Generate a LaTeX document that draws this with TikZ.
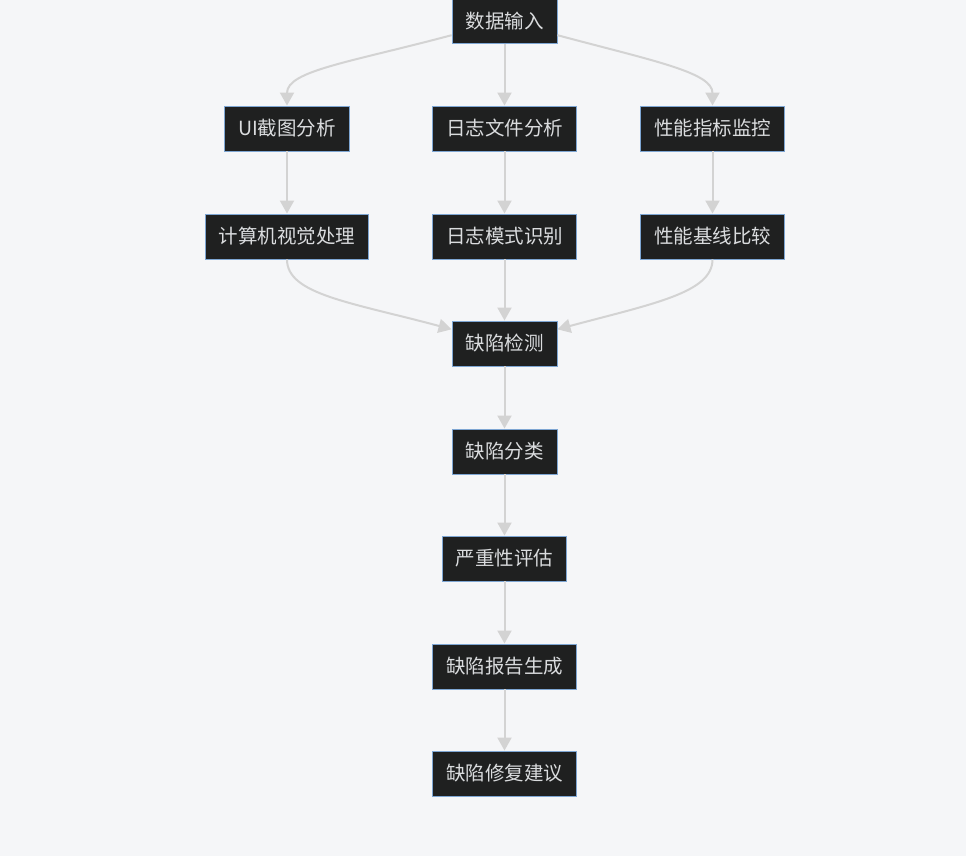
\documentclass[tikz,border=0pt]{standalone}
\usepackage{fontspec}
\usepackage{xcolor}
\usepackage{tikz}
\usetikzlibrary{arrows.meta,positioning}
\newfontfamily\cjk{Noto Sans CJK SC}
\definecolor{pageBg}{RGB}{245,246,248}
\definecolor{boxFill}{RGB}{31,32,32}
\definecolor{boxLine}{RGB}{126,166,211}
\definecolor{boxText}{RGB}{218,220,222}
\definecolor{flowLine}{RGB}{211,211,211}

\tikzset{
    box/.style={rectangle, draw=boxLine, line width=0.9pt, fill=boxFill, text=boxText,
        font=\cjk\fontsize{19.5}{23}\selectfont, inner xsep=13.5pt, inner ysep=0pt,
        minimum height=45pt},
    flow/.style={draw=flowLine, line width=2pt, -{Triangle[length=13pt,width=14pt]}}
}

\begin{document}
\begin{tikzpicture}[x=1pt, y=1pt]
    % Background
    \fill[pageBg] (0,0) rectangle (966,-856);
    \useasboundingbox (0,0) rectangle (966,-856);

    % Source
    \node[box] (input) at (504.5,-21) {数据输入};

    % Three branches
    \node[box] (ui)   at (287,-128.5)   {UI截图分析};
    \node[box] (log)  at (504.5,-128.5) {日志文件分析};
    \node[box] (perf) at (712.5,-128.5) {性能指标监控};

    \node[box] (vision)  at (287,-236.5)   {计算机视觉处理};
    \node[box] (pattern) at (504.5,-236.5) {日志模式识别};
    \node[box] (base)    at (712.5,-236.5) {性能基线比较};

    % Main chain
    \node[box] (detect)   at (504.5,-343.5) {缺陷检测};
    \node[box] (classify) at (504.5,-451.5) {缺陷分类};
    \node[box] (severity) at (504.5,-558.5) {严重性评估};
    \node[box] (report)   at (504.5,-666.5) {缺陷报告生成};
    \node[box] (fix)      at (504.5,-773.5) {缺陷修复建议};

    % Split
    \draw[flow] (input.195) to[out=195, in=90, out looseness=1.5, in looseness=0.5] (ui.north);
    \draw[flow] (input) -- (log);
    \draw[flow] (input.-15) to[out=-15, in=90, out looseness=1.5, in looseness=0.5] (perf.north);

    \draw[flow] (ui) -- (vision);
    \draw[flow] (log) -- (pattern);
    \draw[flow] (perf) -- (base);

    % Merge
    \draw[flow] (vision.south) to[out=-90, in=165, out looseness=0.5, in looseness=1.5] (detect.165);
    \draw[flow] (pattern) -- (detect);
    \draw[flow] (base.south) to[out=-90, in=15, out looseness=0.5, in looseness=1.5] (detect.15);

    \draw[flow] (detect) -- (classify);
    \draw[flow] (classify) -- (severity);
    \draw[flow] (severity) -- (report);
    \draw[flow] (report) -- (fix);
\end{tikzpicture}
\end{document}
